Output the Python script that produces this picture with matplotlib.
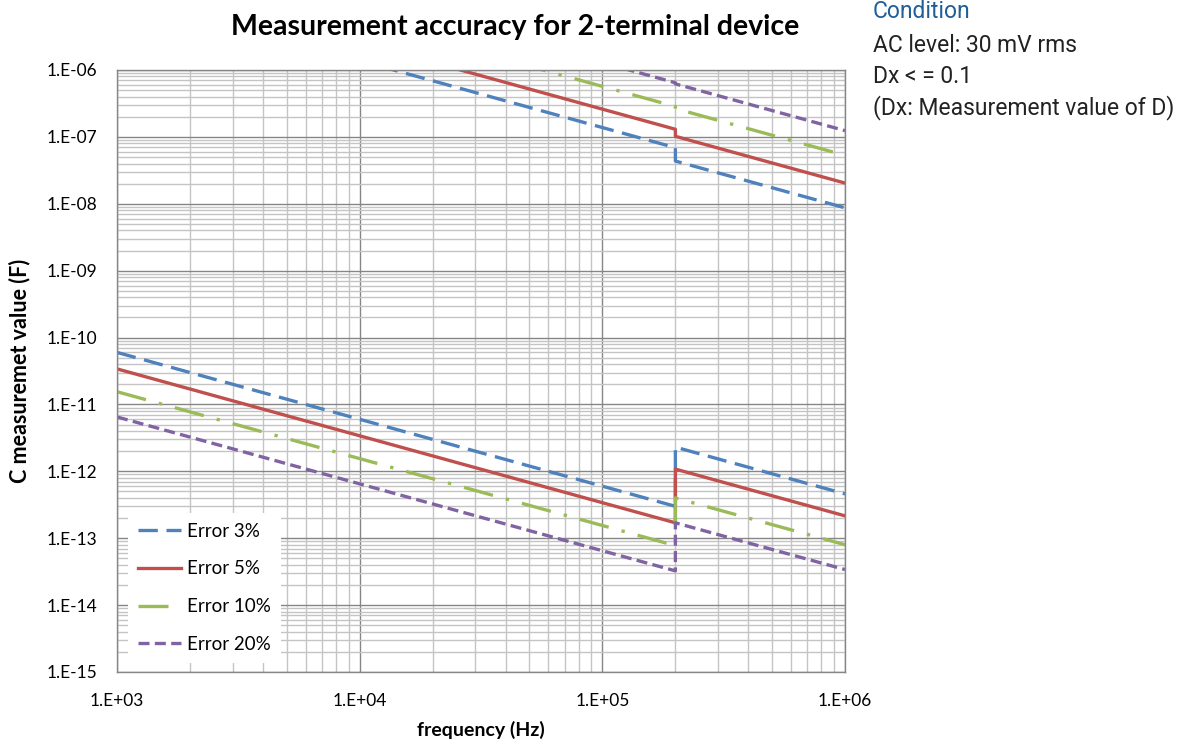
import matplotlib
matplotlib.use("Agg")
import matplotlib.pyplot as plt
from matplotlib.ticker import LogLocator, FuncFormatter, NullFormatter
import numpy as np

# Frequency breakpoints (Hz): range change at 200 kHz
freq = [1e3, 2e5, 2e5, 1e6]

# Lower limit of measurable capacitance (F) per accuracy class
low_err3 = [6.0e-11, 3.0e-13, 2.3e-12, 4.6e-13]
low_err5 = [3.4e-11, 1.7e-13, 1.08e-12, 2.16e-13]
low_err10 = [1.55e-11, 7.75e-14, 4.0e-13, 8.0e-14]
low_err20 = [6.5e-12, 3.25e-14, 1.7e-13, 3.4e-14]

# Upper limit of measurable capacitance (F) per accuracy class
up_err3 = [1.38e-5, 6.9e-8, 4.35e-8, 8.7e-9]
up_err5 = [2.6e-5, 1.3e-7, 1.02e-7, 2.04e-8]
up_err10 = [5.69e-5, 2.845e-7, 2.65e-7, 5.3e-8]
up_err20 = [1.29e-4, 6.45e-7, 6.2e-7, 1.24e-7]

labels = ["Error 3%", "Error 5%", "Error 10%", "Error 20%"]
x_ticks = [1e3, 1e4, 1e5, 1e6]
y_ticks = [1e-15, 1e-14, 1e-13, 1e-12, 1e-11, 1e-10, 1e-9, 1e-8, 1e-7, 1e-6]

plt.rcParams['font.family'] = ['Lato', 'DejaVu Sans']

fig = plt.figure(figsize=(11.91, 7.42), dpi=100)
ax = fig.add_axes([117 / 1191, 1 - 672 / 742, (845 - 117) / 1191, (672 - 70) / 742])

lw = 2.4
styles = [
    dict(color="#4F81BD", linestyle=(0, (5.8, 2.6))),
    dict(color="#C0504D", linestyle="-"),
    dict(color="#9BBB59", linestyle=(0, (9, 4, 1, 4))),
    dict(color="#8064A2", linestyle=(0, (3.3, 1.6))),
]
lows = [low_err3, low_err5, low_err10, low_err20]
ups = [up_err3, up_err5, up_err10, up_err20]

for lab, st, lo, hi in zip(labels, styles, lows, ups):
    ax.plot(freq, lo, lw=lw, label=lab, **st)
    ax.plot(freq, hi, lw=lw, **st)

ax.set_xscale("log")
ax.set_yscale("log")
ax.set_xlim(1e3, 1e6)
ax.set_ylim(1e-15, 1e-6)

ax.xaxis.set_minor_locator(LogLocator(base=10, subs=np.arange(2, 10), numticks=20))
ax.yaxis.set_minor_locator(LogLocator(base=10, subs=np.arange(2, 10), numticks=30))
ax.set_xticks(x_ticks)
ax.set_yticks(y_ticks)

def sci_fmt(v, pos):
    e = int(round(np.log10(v)))
    sign = "+" if e >= 0 else "-"
    return "1.E%s%02d" % (sign, abs(e))

ax.xaxis.set_major_formatter(FuncFormatter(sci_fmt))
ax.yaxis.set_major_formatter(FuncFormatter(sci_fmt))
ax.xaxis.set_minor_formatter(NullFormatter())
ax.yaxis.set_minor_formatter(NullFormatter())

ax.grid(which="major", color="#868686", lw=1.0)
ax.grid(which="minor", color="#c4c4c4", lw=1.0)
ax.set_axisbelow(True)
for s in ax.spines.values():
    s.set_color("#868686")
    s.set_linewidth(1.0)
ax.tick_params(which="both", length=0, labelsize=12.5, colors="black")
ax.tick_params(axis="x", pad=15)
ax.tick_params(axis="y", pad=14.4)

fig.text(481 / 1191, 1 - 730 / 742, "frequency (Hz)", ha="center", va="center",
         fontsize=14, fontweight="bold")
fig.text(20 / 1191, 1 - 371 / 742, "C measuremet value (F)", ha="center", va="center",
         rotation=90, fontsize=15.5, fontweight="bold")

fig.text(515 / 1191, 1 - 27 / 742, "Measurement accuracy for 2-terminal device",
         ha="center", va="center", fontsize=20.5, fontweight="bold")

leg = ax.legend(loc="lower left", bbox_to_anchor=(128 / 1191, 1 - 663 / 742),
                bbox_transform=fig.transFigure, frameon=True, fancybox=False,
                edgecolor="none", facecolor="white", framealpha=1.0,
                fontsize=13.5, handlelength=2.3, labelspacing=1.1,
                borderpad=0.55, handletextpad=0.3, borderaxespad=0)

cond_font = ['Roboto', 'DejaVu Sans']
fig.text(873 / 1191, 1 - 12 / 742, "Condition", ha="left", va="center",
         fontsize=16.5, color="#1F5F99", family=cond_font)
cond_lines = ["AC level: 30 mV rms", "Dx < = 0.1", "(Dx: Measurement value of D)"]
for i, t in enumerate(cond_lines):
    fig.text(873 / 1191, 1 - (45 + 31.5 * i) / 742, t, ha="left", va="center",
             fontsize=16.5, color="#222222", family=cond_font)

fig.savefig("out.png", dpi=100)
